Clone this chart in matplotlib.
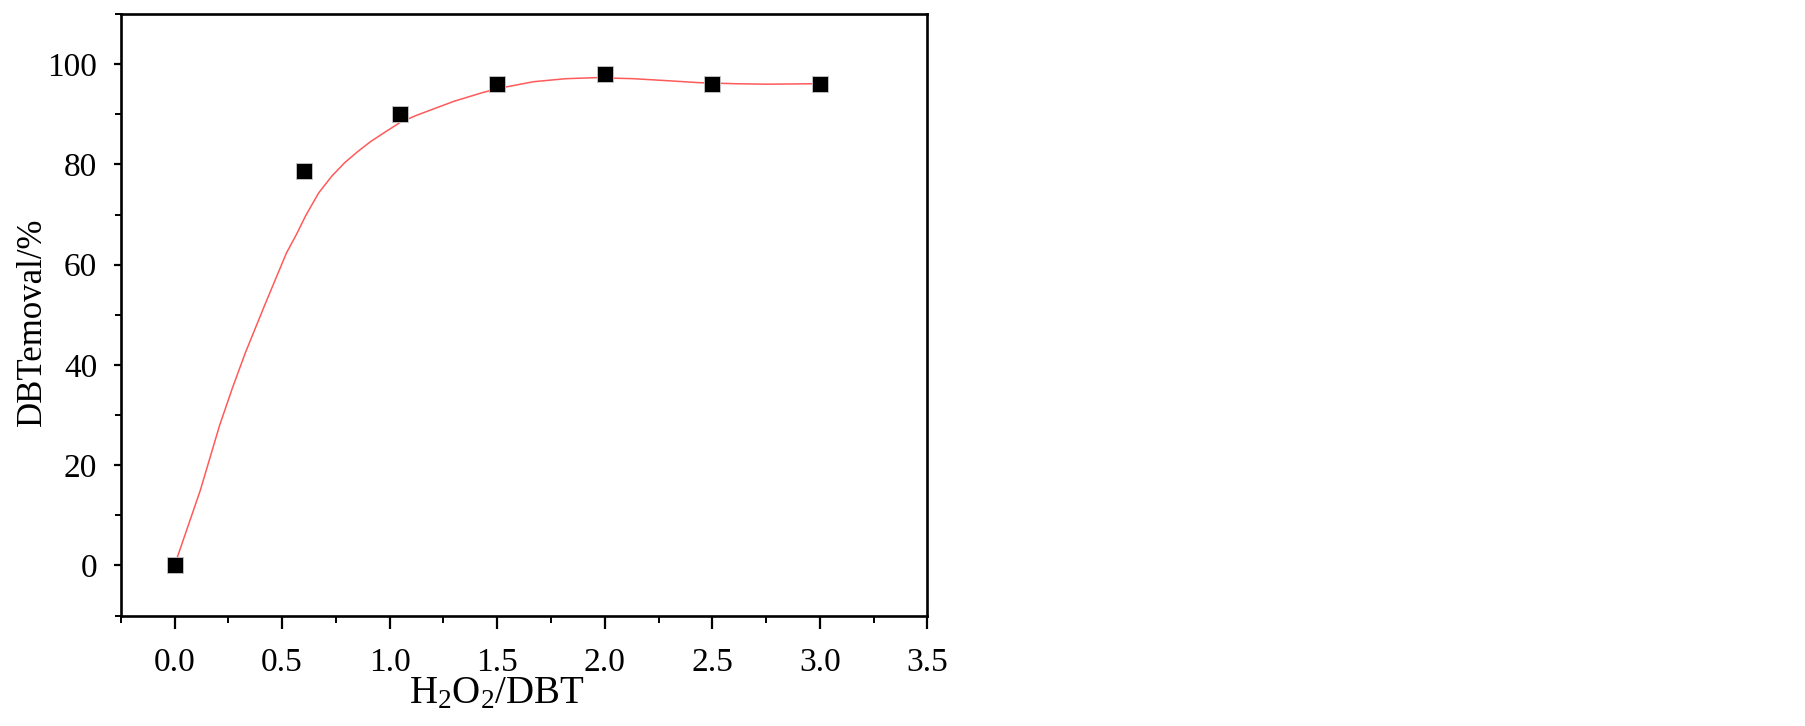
import matplotlib
matplotlib.use("Agg")
import matplotlib.pyplot as plt
from matplotlib.ticker import MultipleLocator

# — DATA —
ratio = [0.0, 0.6, 1.05, 1.5, 2.0, 2.5, 3.0]
removal = [0.0, 78.7, 90.0, 96.0, 98.1, 96.0, 96.1]

# fitted curve
fit_x = [0.0, 0.06, 0.12, 0.21, 0.27, 0.33, 0.42, 0.52, 0.57, 0.61, 0.67,
         0.73, 0.79, 0.85, 0.91, 0.97, 1.05, 1.12, 1.20, 1.30, 1.43, 1.51,
         1.67, 1.82, 1.96, 2.13, 2.29, 2.44, 2.60, 2.75, 3.0]
fit_y = [0.0, 7.5, 15.0, 28.0, 35.5, 42.5, 52.0, 62.3, 66.3, 69.8, 74.3,
         77.6, 80.3, 82.5, 84.5, 86.2, 88.4, 89.7, 91.0, 92.6, 94.3, 95.2,
         96.5, 97.1, 97.3, 97.1, 96.7, 96.3, 96.1, 96.0, 96.1]

x_ticks = [0.0, 0.5, 1.0, 1.5, 2.0, 2.5, 3.0, 3.5]
y_ticks = [0, 20, 40, 60, 80, 100]

plt.rcParams["font.family"] = ["Liberation Serif", "DejaVu Serif"]
plt.rcParams["mathtext.fontset"] = "custom"
plt.rcParams["mathtext.rm"] = "Liberation Serif"

fig = plt.figure(figsize=(18.05, 7.26), dpi=100)
ax = fig.add_axes([0.0669, 0.1522, 0.4469, 0.8285])

ax.plot(fit_x, fit_y, color="#ff5a5a", lw=1.1, zorder=2)
ax.plot(ratio, removal, ls="none", marker="s", ms=12.2, color="black",
        mec="#c8c8c8", mew=0.6, zorder=3)

ax.set_xlim(-0.25, 3.5)
ax.set_ylim(-10, 110)
ax.set_xticks(x_ticks)
ax.set_xticklabels([f"{v:.1f}" for v in x_ticks])
ax.set_yticks(y_ticks)
ax.xaxis.set_minor_locator(MultipleLocator(0.25))
ax.yaxis.set_minor_locator(MultipleLocator(10))

for s in ax.spines.values():
    s.set_linewidth(1.9)

ax.tick_params(axis="x", which="major", direction="out", length=9, width=1.6,
               labelsize=24, pad=14)
ax.tick_params(axis="x", which="minor", direction="out", length=5, width=1.4)
ax.tick_params(axis="y", which="major", direction="out", length=5, width=1.6,
               labelsize=24, pad=12)
ax.tick_params(axis="y", which="minor", direction="out", length=4, width=1.4)

ax.set_xlabel(r"$\mathregular{H_2O_2/DBT}$", fontsize=28)
ax.xaxis.set_label_coords(0.466, -0.1)
ax.set_ylabel("DBTemoval/%", fontsize=25)
ax.yaxis.set_label_coords(-0.089, 0.489)

fig.savefig("out.png", dpi=100)
